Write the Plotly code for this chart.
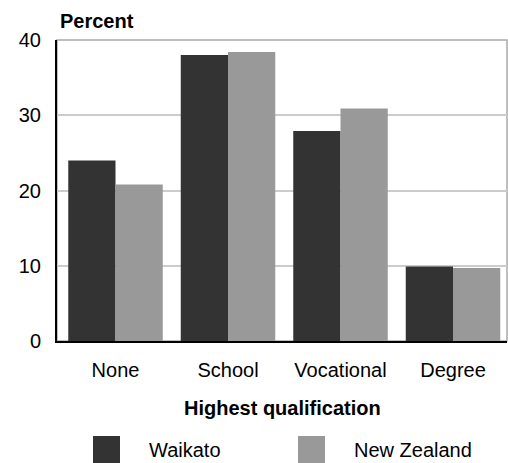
import plotly.graph_objects as go

categories = ["None", "School", "Vocational", "Degree"]
waikato = [24.0, 38.0, 27.9, 9.9]
new_zealand = [20.8, 38.4, 30.9, 9.7]
series_names = ["Waikato", "New Zealand"]
colors = ["#333333", "#999999"]
y_ticks = [0, 10, 20, 30, 40]

W, H = 508, 463
L, R, T, B = 57, 507, 40, 341
PW, PH = R - L, B - T

def px(x):
    return (x - L) / PW

def py(y):
    return (B - y) / PH

FONT = "Liberation Sans, Arial, sans-serif"
FS = 20

fig = go.Figure()
for name, vals, c in zip(series_names, [waikato, new_zealand], colors):
    fig.add_trace(go.Bar(x=categories, y=vals, name=name, marker=dict(color=c, line=dict(width=0)),
                         showlegend=False))

shapes = [
    dict(type="rect", xref="paper", yref="paper", x0=0, x1=1, y0=0, y1=1,
         line=dict(color="#aaaaaa", width=1.5), layer="below"),
]
annotations = [
    dict(text="<b>Percent</b>", xref="paper", yref="paper", x=px(58), y=py(21),
         xanchor="left", yanchor="middle", showarrow=False, font=dict(size=FS, family=FONT, color="black")),
    dict(text="<b>Highest qualification</b>", xref="paper", yref="paper", x=px(282), y=py(408),
         xanchor="center", yanchor="middle", showarrow=False, font=dict(size=FS, family=FONT, color="black")),
]
leg_sq = [(93, 120), (298, 325)]
leg_txt = [147, 352]
for name, c, (x0, x1), tx in zip(series_names, colors, leg_sq, leg_txt):
    shapes.append(dict(type="rect", xref="paper", yref="paper", x0=px(x0), x1=px(x1),
                       y0=py(463), y1=py(436), fillcolor=c, line=dict(width=0)))
    annotations.append(dict(text=name, xref="paper", yref="paper", x=px(tx), y=py(450),
                            xanchor="left", yanchor="middle", showarrow=False,
                            font=dict(size=FS, family=FONT, color="black")))

fig.update_layout(
    width=W, height=H,
    margin=dict(l=L, r=W - R, t=T, b=H - B, pad=0),
    paper_bgcolor="white", plot_bgcolor="white",
    barmode="group", bargap=0.16, bargroupgap=0,
    font=dict(family=FONT, size=FS, color="black"),
    xaxis=dict(range=[-0.52, 3.48], showline=True, linecolor="black", linewidth=2,
               showgrid=False, ticks="", ticklabelstandoff=10,
               tickfont=dict(size=FS, family=FONT, color="black"), fixedrange=True),
    yaxis=dict(range=[0, 40], tickvals=y_ticks, showline=True, linecolor="black", linewidth=2,
               showgrid=True, gridcolor="#cccccc", gridwidth=1.5, zeroline=False,
               ticks="", ticklabelstandoff=10,
               tickfont=dict(size=FS, family=FONT, color="black"), fixedrange=True),
    shapes=shapes,
    annotations=annotations,
)

fig.write_html("out.html", config={"displayModeBar": False},
               post_script="document.body.style.margin='0';document.body.style.overflow='hidden';")
